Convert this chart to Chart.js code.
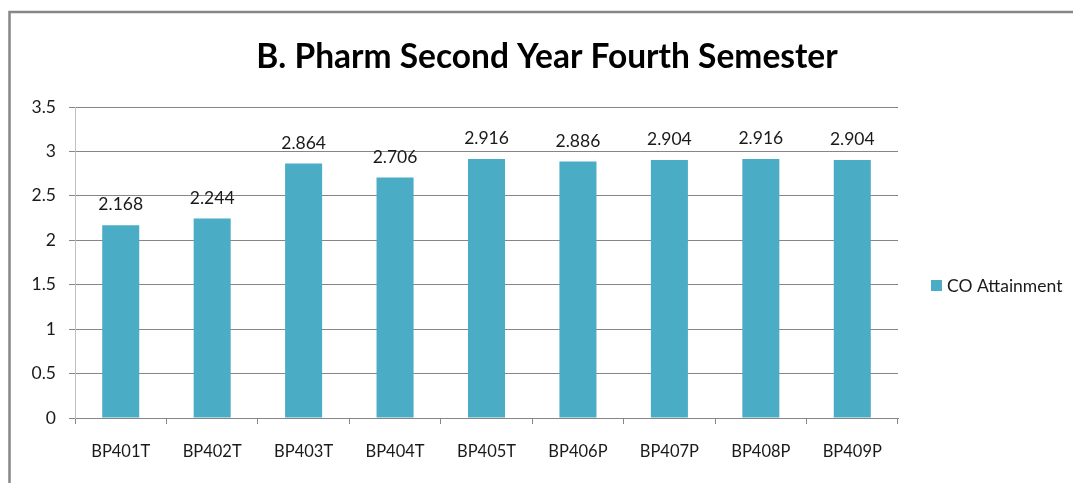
<!DOCTYPE html>
<html>
<head>
<meta charset="utf-8">
<title>B. Pharm Second Year Fourth Semester</title>
<script src="https://cdn.jsdelivr.net/npm/chart.js@4.4.0/dist/chart.umd.min.js"></script>
<style>
  html, body { margin: 0; padding: 0; background: #fff; }
  #wrap { width: 1073px; height: 483px; position: relative; }
</style>
</head>
<body>
<div id="wrap"><canvas id="chart"></canvas></div>
<script>
const titleText = "B. Pharm Second Year Fourth Semester";
const seriesName = "CO Attainment";
const subjects = ["BP401T", "BP402T", "BP403T", "BP404T", "BP405T", "BP406P", "BP407P", "BP408P", "BP409P"];
const attainment = [2.168, 2.244, 2.864, 2.706, 2.916, 2.886, 2.904, 2.916, 2.904];
const yMin = 0;
const yMax = 3.5;
const yStep = 0.5;

const barColor = "#4BACC6";
const gridColor = "#868686";
const textColor = "#1a1a1a";
const fontFamily = "Lato, 'Open Sans', sans-serif";

// frame, title, value labels and legend drawn on top of the chart
const excelLook = {
  id: "excelLook",
  afterDatasetsDraw(chart) {
    const ctx = chart.ctx;
    const meta = chart.getDatasetMeta(0);
    ctx.save();
    ctx.fillStyle = textColor;
    ctx.font = "17.5px " + fontFamily;
    ctx.textAlign = "center";
    ctx.textBaseline = "alphabetic";
    meta.data.forEach((bar, i) => {
      ctx.fillText(attainment[i].toString(), bar.x, bar.y - 15);
    });
    ctx.restore();
  },
  afterDraw(chart) {
    const ctx = chart.ctx;
    ctx.save();
    // outer frame (runs off the right and bottom edge)
    ctx.strokeStyle = "#878787";
    ctx.lineWidth = 2.5;
    ctx.strokeRect(9.5, 12, 1100, 500);

    // title
    ctx.fillStyle = "#000";
    ctx.font = "bold 33.5px " + fontFamily;
    ctx.textAlign = "center";
    ctx.textBaseline = "alphabetic";
    ctx.fillText(titleText, 547, 68);

    // legend
    const ds = chart.data.datasets[0];
    ctx.fillStyle = ds.backgroundColor;
    ctx.fillRect(931, 280, 11, 11);
    ctx.fillStyle = textColor;
    ctx.font = "17.5px " + fontFamily;
    ctx.textAlign = "left";
    ctx.textBaseline = "middle";
    ctx.fillText(ds.label, 947, 286);
    ctx.restore();
  }
};

new Chart(document.getElementById("chart"), {
  type: "bar",
  data: {
    labels: subjects,
    datasets: [
      {
        label: seriesName,
        data: attainment,
        backgroundColor: barColor,
        categoryPercentage: 1.0,
        barPercentage: 0.405,
      },
    ],
  },
  options: {
    responsive: true,
    maintainAspectRatio: false,
    animation: false,
    layout: { padding: { top: 107, right: 175, bottom: 0, left: 0 } },
    plugins: {
      legend: { display: false },
      title: { display: false },
      tooltip: { enabled: false },
    },
    scales: {
      x: {
        offset: true,
        grid: {
          offset: true,
          drawOnChartArea: false,
          drawTicks: true,
          tickLength: 6,
          color: gridColor,
        },
        border: { color: gridColor, width: 1 },
        ticks: {
          color: textColor,
          font: { family: fontFamily, size: 16.5 },
          padding: 18,
          maxRotation: 0,
        },
        afterFit(scale) { scale.height = 65; },
      },
      y: {
        min: yMin,
        max: yMax,
        grid: { color: gridColor, tickLength: 6 },
        border: { color: "#c0c0c0", width: 1 },
        ticks: {
          stepSize: yStep,
          color: textColor,
          font: { family: fontFamily, size: 17.5 },
          padding: 13,
          callback: (v) => v.toString(),
        },
        afterFit(scale) { scale.width = 75; },
      },
    },
  },
  plugins: [excelLook],
});
</script>
</body>
</html>
